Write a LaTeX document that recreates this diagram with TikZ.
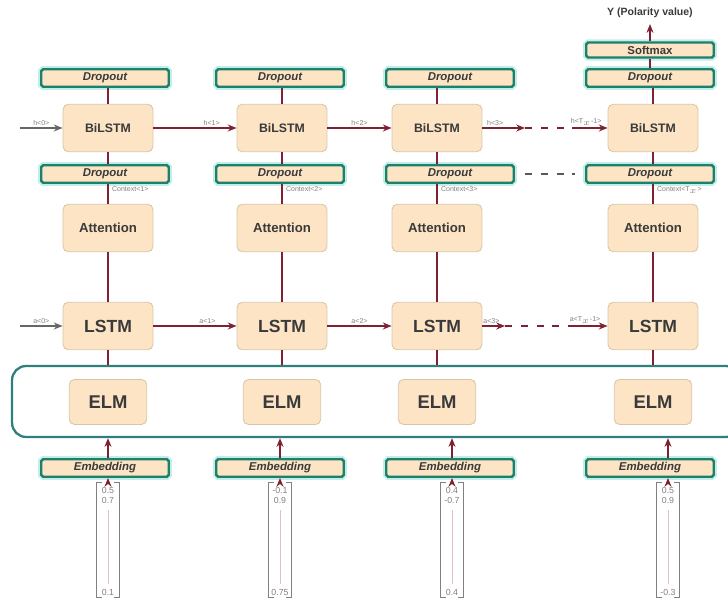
\documentclass[tikz,border=0pt]{standalone}
\usepackage{fontspec}
\setmainfont{Liberation Sans}
\usepackage{tikz}
\usetikzlibrary{arrows.meta, calc}

\definecolor{peach}{HTML}{FCE4C4}
\definecolor{boxline}{HTML}{D8C6A6}
\definecolor{tealline}{HTML}{1E7F6A}
\definecolor{glow}{HTML}{C2EEEA}
\definecolor{linkred}{HTML}{9E2A3E}
\definecolor{txtgray}{HTML}{3A3A3A}
\definecolor{framecol}{HTML}{2F7F7C}

\begin{document}
\begin{tikzpicture}[x=0.02cm, y=-0.02cm,
    cell/.style={draw=boxline, fill=peach, rounded corners=3pt, line width=0.5pt,
        minimum width=1.8cm, minimum height=0.95cm, text=txtgray, font=\bfseries\fontsize{7}{8}\selectfont},
    bar/.style={draw=tealline, fill=peach, line width=1.4pt, rounded corners=1pt,
        preaction={draw=glow, line width=3.6pt},
        minimum width=2.55cm, minimum height=0.35cm, inner sep=0pt,
        text=txtgray, font=\bfseries\itshape\fontsize{6.5}{7}\selectfont},
    link/.style={draw=linkred!80!black, line width=0.7pt},
    arr/.style={link, -{Stealth[length=5pt, width=4pt]}},
    gap/.style={dash pattern=on 4pt off 5pt},
    lbl/.style={text=gray, font=\fontsize{4}{4}\selectfont, inner sep=1pt},
    num/.style={text=gray, font=\fontsize{5}{5}\selectfont, inner sep=0pt},
    vecline/.style={draw=gray, line width=0.5pt}]

    % page size
    \useasboundingbox (0,0) rectangle (728,601);

    % frame round the ELM layer
    \node (frame) [draw=framecol, line width=1.3pt, rounded corners=8pt,
        minimum width=14.56cm, minimum height=1.42cm] at (376,401.5) {};

    % the four columns
    \foreach \i/\m/\w/\v/\a/\b/\c in {1/108/105/108/0.5/0.7/0.1,
                                      2/282/280/280/-0.1/0.9/0.75,
                                      3/437/450/452/0.4/-0.7/0.4,
                                      4/653/650/668/0.5/0.9/-0.3} {
        \node (drt\i) [bar] at (\w,78) {Dropout};
        \node (bil\i) [cell] at (\m,128) {BiLSTM};
        \node (drl\i) [bar] at (\w,174) {Dropout};
        \node (att\i) [cell, font=\bfseries\fontsize{7.5}{8}\selectfont] at (\m,228) {Attention};
        \node (lstm\i) [cell, font=\bfseries\fontsize{10}{11}\selectfont] at (\m,326) {LSTM};
        \node (elm\i) [cell, minimum width=1.55cm, minimum height=0.9cm,
            font=\bfseries\fontsize{10.5}{11}\selectfont] at (\m,402) {ELM};
        \node (emb\i) [bar] at (\w,468) {Embedding};

        % input vector
        \node (vec\i) [minimum width=0.44cm, minimum height=2.3cm, inner sep=0pt] at (\v,540) {};
        \draw[vecline] ([xshift=3pt]vec\i.north west) -- (vec\i.north west)
            -- (vec\i.south west) -- ++(3pt,0);
        \draw[vecline] ([xshift=-3pt]vec\i.north east) -- (vec\i.north east)
            -- (vec\i.south east) -- ++(-3pt,0);
        \node[num] at ($(vec\i.north)+(0,8)$) {\a};
        \node[num] at ($(vec\i.north)+(0,18)$) {\b};
        \node[num] at ($(vec\i.south)+(0,-5)$) {\c};
        \draw[draw=linkred!30, line width=0.5pt] ($(vec\i.north)+(0,28)$) -- ($(vec\i.south)+(0,-14)$);

        % vertical links
        \draw[arr] (vec\i.north) -- (vec\i |- emb\i.south);
        \draw[arr] (vec\i |- emb\i.north) -- (vec\i |- frame.south);
        \draw[link] (lstm\i.south) -- (lstm\i |- frame.north);
        \draw[link] (lstm\i) -- (att\i);
        \draw[link] (att\i.north) -- (att\i |- drl\i.south);
        \draw[link] (bil\i |- drl\i.north) -- (bil\i.south);
        \draw[link] (bil\i.north) -- (bil\i |- drt\i.south);
    }

    % context labels
    \node[lbl, anchor=north west] at ($(att1 |- drl1.south)+(2,1)$) {Context\textless1\textgreater};
    \node[lbl, anchor=north west] at ($(att2 |- drl2.south)+(2,1)$) {Context\textless2\textgreater};
    \node[lbl, anchor=north west] at ($(att3 |- drl3.south)+(2,1)$) {Context\textless3\textgreater};
    \node[lbl, anchor=north west] at ($(att4 |- drl4.south)+(2,1)$) {Context\textless T$_x$\textgreater};

    % output
    \node (soft) [bar, font=\bfseries\fontsize{6.5}{7}\selectfont, minimum height=0.3cm] at (650,50) {Softmax};
    \node (ylab) [text=txtgray, font=\bfseries\fontsize{6}{7}\selectfont] at (650,13) {Y (Polarity value)};
    \draw[link] (drt4.north) -- (soft.south);
    \draw[arr] (soft.north) -- (ylab.south);

    % BiLSTM chain
    \coordinate (hin) at (20,128);
    \coordinate (hb3) at (525,128);
    \coordinate (hb4) at (572,128);
    \draw[arr, draw=gray!80!black] (hin) -- (bil1.west) node[lbl, midway, above] {h\textless0\textgreater};
    \draw[arr] (bil1.east) -- (bil2.west) node[lbl, pos=0.7, above] {h\textless1\textgreater};
    \draw[arr] (bil2.east) -- (bil3.west) node[lbl, pos=0.5, above] {h\textless2\textgreater};
    \draw[arr] (bil3.east) -- (hb3) node[lbl, pos=0.3, above] {h\textless3\textgreater};
    \draw[link, gap] (hb3) -- (hb4);
    \draw[arr] (hb4) -- (bil4.west) node[lbl, pos=0.4, above] {h\textless T$_x$-1\textgreater};

    % dropout row gap
    \draw[link, draw=gray!70!black, gap, line width=0.9pt] ($(drl3.east)+(10,0)$) -- ($(drl4.west)+(-10,0)$);

    % LSTM chain
    \coordinate (ain) at (20,326);
    \coordinate (al3) at (505,326);
    \coordinate (al4) at (570,326);
    \draw[arr, draw=gray!80!black] (ain) -- (lstm1.west) node[lbl, midway, above] {a\textless0\textgreater};
    \draw[arr] (lstm1.east) -- (lstm2.west) node[lbl, pos=0.65, above] {a\textless1\textgreater};
    \draw[arr] (lstm2.east) -- (lstm3.west) node[lbl, pos=0.5, above] {a\textless2\textgreater};
    \draw[arr] (lstm3.east) -- (al3) node[lbl, pos=0.4, above] {a\textless3\textgreater};
    \draw[link, gap] (al3) -- (al4);
    \draw[arr] (al4) -- (lstm4.west) node[lbl, pos=0.4, above] {a\textless T$_x$-1\textgreater};

\end{tikzpicture}
\end{document}
